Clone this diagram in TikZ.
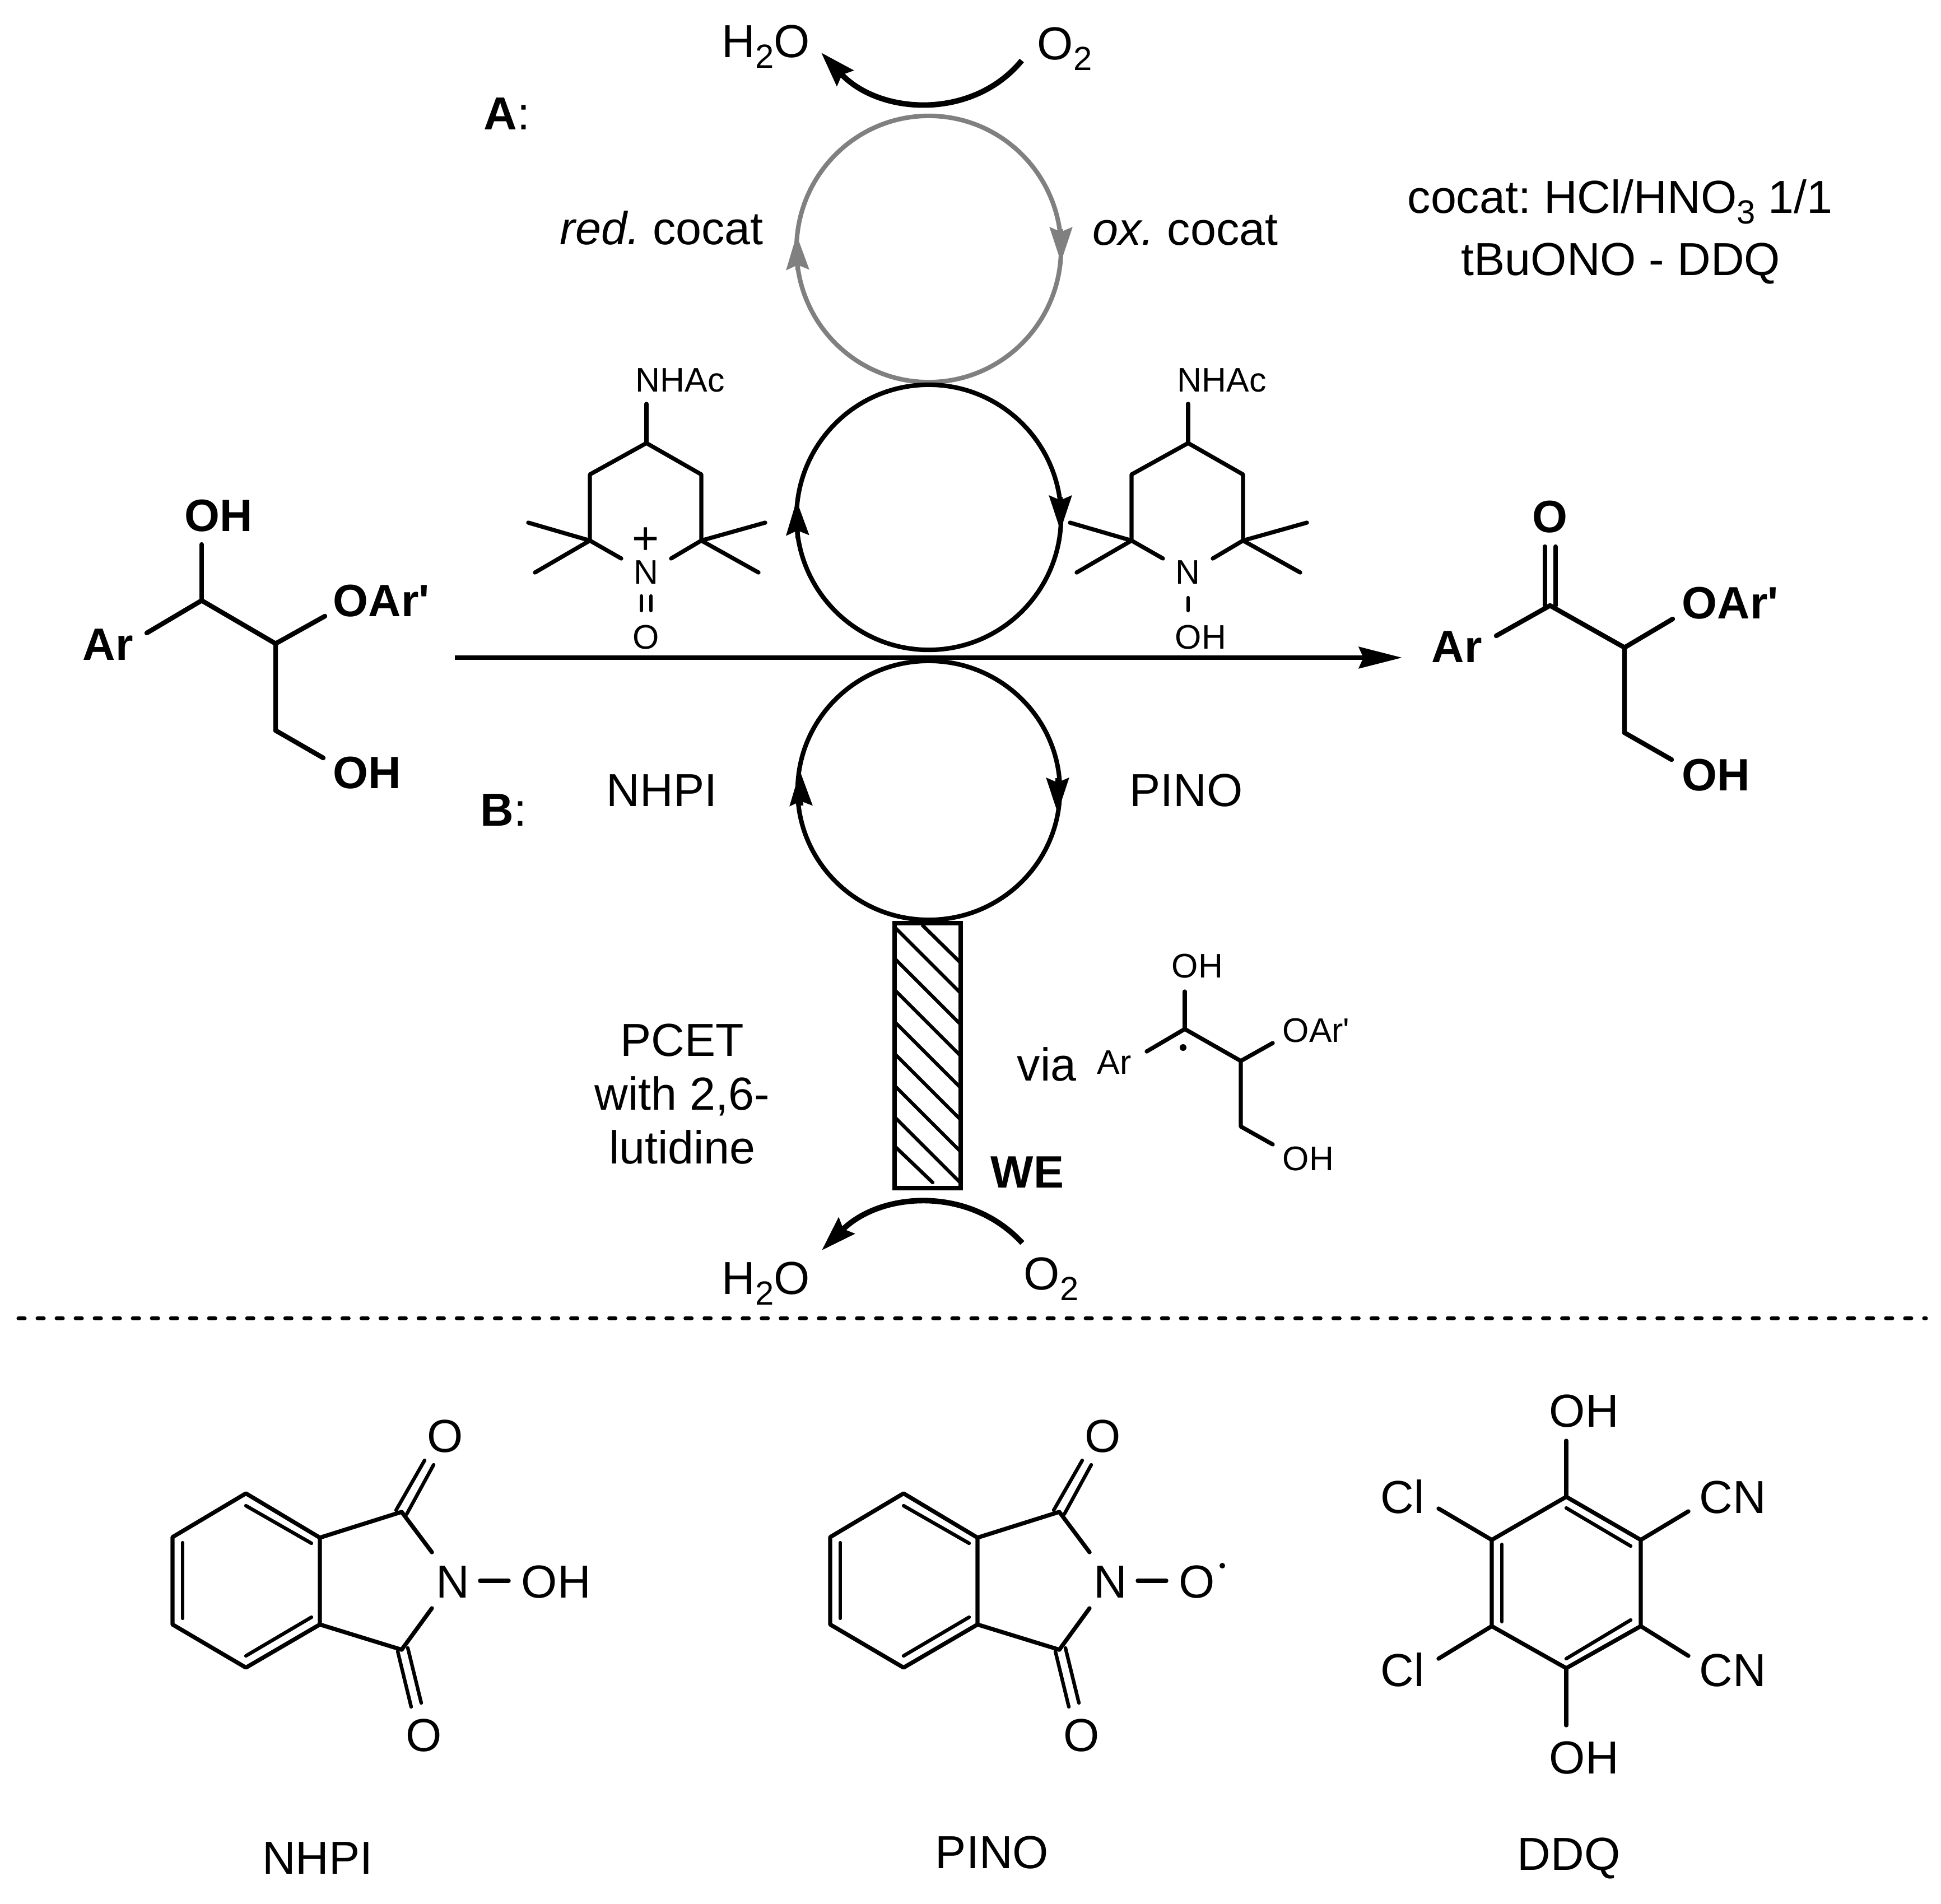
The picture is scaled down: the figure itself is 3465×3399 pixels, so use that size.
\documentclass[tikz,border=0pt]{standalone}
\usepackage{fontspec}
\setmainfont{Liberation Sans}[Ligatures=TeXOff]
\usetikzlibrary{arrows.meta, shapes.geometric}
\definecolor{cocatgrey}{RGB}{128,128,128}
\newcommand{\chemsub}[1]{\raisebox{-0.24em}{\fontsize{17}{17}\selectfont #1}}
\begin{document}
\frenchspacing
\begin{tikzpicture}[
    x=0.01cm, y=-0.01cm,
    bond/.style={line width=2.1pt, line cap=round, line join=round},
    boldbond/.style={line width=2.4pt, line cap=round, line join=round},
    inbond/.style={line width=1.8pt, line cap=round},
    txt/.style={inner sep=0pt, anchor=base west, font=\fontsize{23.5}{27.6}\selectfont},
    ctxt/.style={txt, anchor=base},
    sm/.style={inner sep=0pt, anchor=base west, font=\fontsize{17.3}{20}\selectfont},
    csm/.style={sm, anchor=base},
    bld/.style={txt, font=\fontsize{23}{27.6}\bfseries\selectfont},
    cyc/.style={draw, ellipse, line width=2.3pt, inner sep=0pt},
    hd/.style={-{Stealth[length=0.62cm, width=0.4cm, inset=0.08cm]}, line width=2.3pt},
    curv/.style={hd, line width=2.8pt},
    arr/.style={-{Stealth[length=0.77cm, width=0.38cm, inset=0.08cm]}, line width=2.4pt}
]
\useasboundingbox (0,0) rectangle (3465,3399);

% catalytic cycles
\node[cyc, draw=cocatgrey, minimum width=4.72cm, minimum height=4.75cm] (cycA) at (1658,444.5) {};
\node[cyc, minimum width=4.72cm, minimum height=4.73cm] (cycB) at (1658,923.5) {};
\node[cyc, minimum width=4.68cm, minimum height=4.62cm] (cycC) at (1658,1411) {};
\draw[hd, cocatgrey] (1424,482) -- (1422,419);
\draw[hd, cocatgrey] (1894,409) -- (1894,468);
\draw[hd] (1424,961) -- (1422,893);
\draw[hd] (1893,887) -- (1893,947);
\draw[hd] (1430,1438) -- (1428,1376);
\draw[hd] (1888,1389) -- (1888,1451);

% top and bottom oxygen arrows
\node[txt] (h2oA) at (1288,102) {H\chemsub{2}O};
\node[txt] (o2A) at (1851,106) {O\chemsub{2}};
\coordinate (o2Aend) at (1824,108);
\coordinate (h2oAend) at (1466,94);
\draw[curv] (o2Aend) .. controls (1737,214) and (1571,206) .. (h2oAend);
\node[txt] (h2oB) at (1288,2310) {H\chemsub{2}O};
\node[txt] (o2B) at (1827,2302) {O\chemsub{2}};
\coordinate (o2Bend) at (1825,2219);
\coordinate (h2oBend) at (1467,2232);
\draw[curv] (o2Bend) .. controls (1731,2117) and (1573,2127) .. (h2oBend);

% labels
\node[txt] (labA) at (863,231) {\textbf{A}:};
\node[txt] (labB) at (857,1474) {\textbf{B}:};
\node[txt] (redcocat) at (999,436) {\textit{red.} cocat};
\node[txt] (oxcocat) at (1950,437) {\textit{ox.} cocat};
\node[txt] (cocat1) at (2512,380) {cocat: HCl/HNO\chemsub{3} 1/1};
\node[txt] (cocat2) at (2608,491) {tBuONO - DDQ};
\node[txt] (nhpitop) at (1082,1439) {NHPI};
\node[txt] (pinotop) at (2016,1439) {PINO};
\node[ctxt] (pcet) at (1218,1885) {PCET};
\node[ctxt] (pcet2) at (1218,1981) {with 2,6-};
\node[ctxt] (pcet3) at (1218,2077) {lutidine};
\node[txt] (via) at (1815,1929) {via};
\node[bld] (we) at (1768,2120) {WE};

% piperidines
\foreach \dx/\nm in {0/oxo,967/hyd}{
\begin{scope}[shift={(\dx,0)}]
\node[csm] (nhac\nm) at (1214,699) {NHAc};
\node[csm] (n\nm) at (1153,1042) {N};
\draw[bond] (1154,721) -- (1154,791);
\draw[bond] (1109,997) -- (1053,965) -- (1053,847) -- (1154,791) -- (1252,847) -- (1252,965) -- (1198,997);
\draw[bond] (943,933) -- (1053,965) -- (955,1022);
\draw[bond] (1366,933) -- (1252,965) -- (1354,1022);
\end{scope}
}
\node[txt, anchor=center] (plus) at (1153,966) {+};
\draw[inbond] (1145,1064) -- (1145,1090);
\draw[inbond] (1162,1064) -- (1162,1090);
\node[csm] (oxoO) at (1153,1158) {O};
\draw[inbond] (2121,1067) -- (2121,1090);
\node[sm] (hydOH) at (2097,1158) {OH};

% main arrow
\coordinate (mainstart) at (812,1174);
\coordinate (mainend) at (2503,1174);
\draw[arr] (mainstart) -- (mainend);

% substrate
\node[bld] (subOH) at (329,948) {OH};
\node[bld] (subAr) at (147,1178) {Ar};
\node[bld] (subOAr) at (594,1100) {OAr'};
\node[bld] (subOH2) at (594,1407) {OH};
\draw[boldbond] (360,972) -- (360,1072);
\draw[boldbond] (262,1130) -- (360,1072) -- (492,1149) -- (492,1304) -- (577,1353);
\draw[boldbond] (492,1149) -- (580,1100);

% product
\node[bld, anchor=base] (prodO) at (2767,950) {O};
\node[bld] (prodAr) at (2555,1182) {Ar};
\node[bld] (prodOAr) at (3002,1104) {OAr'};
\node[bld] (prodOH) at (3002,1411) {OH};
\draw[boldbond] (2758,976) -- (2758,1081);
\draw[boldbond] (2777,976) -- (2777,1081);
\draw[boldbond] (2671,1135) -- (2767,1081) -- (2900,1156) -- (2900,1308) -- (2984,1356);
\draw[boldbond] (2900,1156) -- (2986,1105);

% working electrode
\node[draw, line width=2.3pt, inner sep=0pt, minimum width=1.18cm, minimum height=4.73cm] (electrode) at (1656,1884.5) {};
\foreach \y in {1655,1711,1767,1824,1881,1938,1994}{
\draw[inbond, line cap=butt] (1597,\y) -- (1715,\y+118);
}
\draw[inbond, line cap=butt] (1646,1651) -- (1713,1717);
\draw[inbond] (1597,2046) -- (1665,2111);

% radical intermediate
\node[sm] (radOH) at (2091,1745) {OH};
\node[sm] (radAr) at (1958,1917) {Ar};
\node[sm] (radOAr) at (2289,1860) {OAr'};
\node[sm] (radOH2) at (2289,2089) {OH};
\draw[bond] (2115,1770) -- (2115,1837);
\draw[bond] (2047,1877) -- (2115,1837) -- (2215,1894) -- (2215,2011) -- (2272,2043);
\draw[bond] (2215,1894) -- (2272,1862);
\fill (2112,1870) circle[radius=6];

% separator
\coordinate (sepl) at (33,2353);
\coordinate (sepr) at (3438,2353);
\draw[line width=2pt, line cap=round, dash pattern=on 0.11cm off 0.23cm] (sepl) -- (sepr);

% NHPI and PINO
\foreach \dx/\nm/\lab/\lx/\ly in {0/nhpi/NHPI/567/3345,1174/pino/PINO/597/3335}{
\begin{scope}[shift={(\dx,0)}]
\draw[bond] (439,2666) -- (571,2745) -- (571,2900) -- (439,2977) -- (308,2900) -- (308,2744) -- cycle;
\draw[inbond] (439,2688) -- (556,2755);
\draw[inbond] (326,2754) -- (326,2889);
\draw[inbond] (439,2956) -- (556,2887);
\draw[bond] (571,2745) -- (717,2699) -- (771,2771);
\draw[bond] (571,2900) -- (717,2945) -- (771,2871);
\draw[inbond] (707,2696) -- (758,2607);
\draw[inbond] (726,2703) -- (774,2615);
\draw[inbond] (710,2948) -- (734,3047);
\draw[inbond] (728,2942) -- (752,3040);
\draw[bond] (857,2822) -- (908,2822);
\node[ctxt] (ntop\nm) at (795,2592) {O};
\node[ctxt] (nbot\nm) at (757,3126) {O};
\node[ctxt] (n\nm) at (808,2852) {N};
\node[ctxt] (lab\nm) at (\lx,\ly) {\lab};
\end{scope}
}
\node[txt] (nhpiOH) at (930,2852) {OH};
\node[txt] (pinoO) at (2104,2852) {O};
\fill (2182,2795) circle[radius=5];

% DDQ
\draw[bond] (2796,2672) -- (2929,2749) -- (2929,2903) -- (2796,2978) -- (2663,2903) -- (2663,2749) -- cycle;
\draw[inbond] (2796,2692) -- (2911,2760);
\draw[inbond] (2681,2757) -- (2681,2895);
\draw[inbond] (2796,2961) -- (2911,2892);
\draw[bond] (2796,2572) -- (2796,2672);
\draw[bond] (2796,2978) -- (2796,3080);
\draw[bond] (2568,2693) -- (2663,2749);
\draw[bond] (2568,2961) -- (2663,2903);
\draw[bond] (3014,2698) -- (2929,2749);
\draw[bond] (3014,2956) -- (2929,2903);
\node[txt] (ddqOH) at (2765,2547) {OH};
\node[txt] (ddqOH2) at (2765,3166) {OH};
\node[txt] (ddqCl) at (2464,2701) {Cl};
\node[txt] (ddqCl2) at (2464,3010) {Cl};
\node[txt] (ddqCN) at (3033,2701) {CN};
\node[txt] (ddqCN2) at (3033,3010) {CN};
\node[txt] (ddq) at (2708,3338) {DDQ};
\end{tikzpicture}
\end{document}
